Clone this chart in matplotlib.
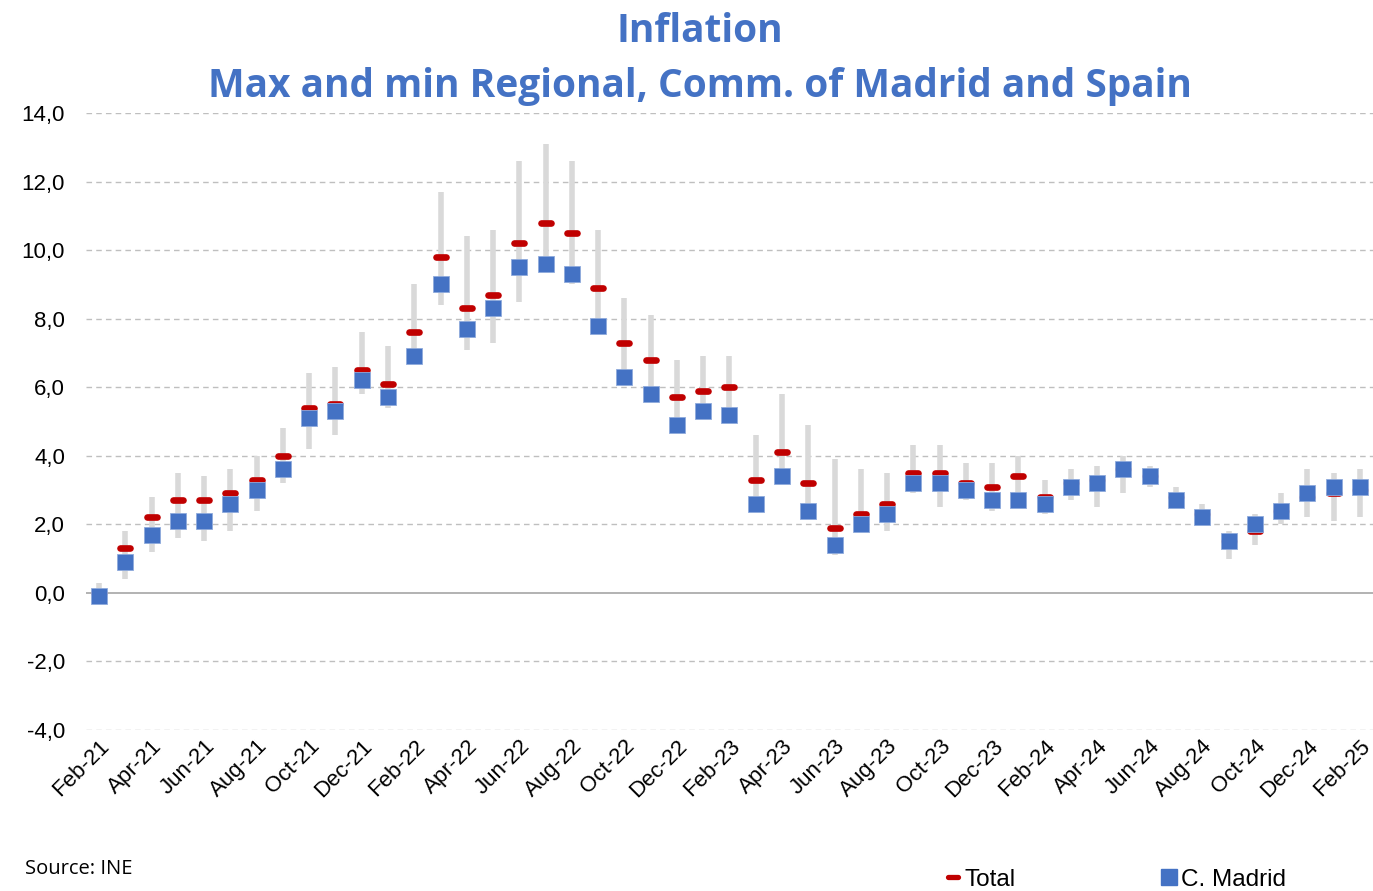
import numpy as np
import matplotlib.pyplot as plt
from matplotlib.markers import MarkerStyle
from matplotlib.lines import Line2D

# months Feb-21 .. Feb-25
months = ["Feb-21", "Mar-21", "Apr-21", "May-21", "Jun-21", "Jul-21", "Aug-21", "Sep-21",
          "Oct-21", "Nov-21", "Dec-21", "Jan-22", "Feb-22", "Mar-22", "Apr-22", "May-22",
          "Jun-22", "Jul-22", "Aug-22", "Sep-22", "Oct-22", "Nov-22", "Dec-22", "Jan-23",
          "Feb-23", "Mar-23", "Apr-23", "May-23", "Jun-23", "Jul-23", "Aug-23", "Sep-23",
          "Oct-23", "Nov-23", "Dec-23", "Jan-24", "Feb-24", "Mar-24", "Apr-24", "May-24",
          "Jun-24", "Jul-24", "Aug-24", "Sep-24", "Oct-24", "Nov-24", "Dec-24", "Jan-25",
          "Feb-25"]

total = [0.0, 1.3, 2.2, 2.7, 2.7, 2.9, 3.3, 4.0, 5.4, 5.5, 6.5, 6.1, 7.6, 9.8, 8.3, 8.7,
         10.2, 10.8, 10.5, 8.9, 7.3, 6.8, 5.7, 5.9, 6.0, 3.3, 4.1, 3.2, 1.9, 2.3, 2.6, 3.5,
         3.5, 3.2, 3.1, 3.4, 2.8, 3.2, 3.3, 3.6, 3.4, 2.8, 2.3, 1.5, 1.8, 2.4, 2.8, 2.9, 3.0]

madrid = [-0.1, 0.9, 1.7, 2.1, 2.1, 2.6, 3.0, 3.6, 5.1, 5.3, 6.2, 5.7, 6.9, 9.0, 7.7, 8.3,
          9.5, 9.6, 9.3, 7.8, 6.3, 5.8, 4.9, 5.3, 5.2, 2.6, 3.4, 2.4, 1.4, 2.0, 2.3, 3.2,
          3.2, 3.0, 2.7, 2.7, 2.6, 3.1, 3.2, 3.6, 3.4, 2.7, 2.2, 1.5, 2.0, 2.4, 2.9, 3.1, 3.1]

reg_max = [0.3, 1.8, 2.8, 3.5, 3.4, 3.6, 4.0, 4.8, 6.4, 6.6, 7.6, 7.2, 9.0, 11.7, 10.4, 10.6,
           12.6, 13.1, 12.6, 10.6, 8.6, 8.1, 6.8, 6.9, 6.9, 4.6, 5.8, 4.9, 3.9, 3.6, 3.5, 4.3,
           4.3, 3.8, 3.8, 4.0, 3.3, 3.6, 3.7, 4.0, 3.7, 3.1, 2.6, 1.8, 2.3, 2.9, 3.6, 3.5, 3.6]

reg_min = [-0.3, 0.4, 1.2, 1.6, 1.5, 1.8, 2.4, 3.2, 4.2, 4.6, 5.8, 5.4, 6.7, 8.4, 7.1, 7.3,
           8.5, 9.4, 9.0, 7.6, 6.1, 5.6, 4.7, 5.1, 5.0, 2.4, 3.2, 2.2, 1.1, 1.8, 1.8, 2.9,
           2.5, 2.7, 2.4, 2.5, 2.3, 2.7, 2.5, 2.9, 3.1, 2.5, 2.0, 1.0, 1.4, 2.0, 2.2, 2.1, 2.2]

blue = "#4472C4"
red = "#C00000"
grey = "#D9D9D9"

fig = plt.figure(figsize=(13.73, 8.91), dpi=100)
ax = fig.add_axes([0.0626, 0.1807, 0.9374, 0.6925])

x = np.arange(len(months))
ax.vlines(x, reg_min, reg_max, color=grey, linewidth=4, zorder=2)

dash = MarkerStyle("_", capstyle="round")
ax.plot(x, total, linestyle="none", marker=dash, markersize=6.5, markeredgewidth=4.8,
        color=red, zorder=3)
ax.plot(x, madrid, linestyle="none", marker="s", markersize=12.2, markerfacecolor=blue,
        markeredgecolor="#8FAADC", markeredgewidth=0.6, zorder=4)

ax.set_xlim(-0.5, len(months) - 0.5)
ax.set_ylim(-4, 14)
yt = np.arange(-4, 15, 2)
ax.set_yticks(yt)
ax.set_yticklabels([f"{v:.1f}".replace(".", ",") for v in yt],
                   fontfamily="Liberation Sans", fontsize=16)
ax.set_xticks(x[::2])
ax.set_xticklabels(months[::2], rotation=45, ha="right", rotation_mode="anchor",
                   fontfamily="Liberation Sans", fontsize=16)
ax.tick_params(length=0)
ax.tick_params(axis="y", pad=15)
ax.tick_params(axis="x", pad=4)

for v in yt:
    if v == 0:
        ax.axhline(0, color="#A6A6A6", linewidth=1.2, zorder=1)
    else:
        ax.axhline(v, color="#BFBFBF", linewidth=1, linestyle=(0, (4, 3)), zorder=1)

for s in ax.spines.values():
    s.set_visible(False)

fig.text(0.51, 0.965, "Inflation", ha="center", va="center", color=blue,
         fontsize=28, fontweight="bold", fontfamily="Open Sans")
fig.text(0.51, 0.903, "Max and min Regional, Comm. of Madrid and Spain", ha="center",
         va="center", color=blue, fontsize=28, fontweight="bold", fontfamily="Open Sans")

fig.text(0.018, 0.025, "Source: INE", ha="left", va="center", fontsize=14.5,
         fontfamily="Open Sans")

leg_total = Line2D([], [], linestyle="none", marker=dash, markersize=6.5,
                   markeredgewidth=3.8, color=red)
leg_madrid = Line2D([], [], linestyle="none", marker="s", markersize=11, color=blue)
for h, lab, x0 in [(leg_total, "Total", 944), (leg_madrid, "C. Madrid", 1160)]:
    fig.legend([h], [lab], frameon=False, loc="center left",
               bbox_to_anchor=(x0 / 1373, 1 - 880 / 891), borderpad=0, borderaxespad=0,
               handlelength=0.75, handletextpad=0.1,
               prop={"family": "Liberation Sans", "size": 17.5})

fig.savefig("out.png", dpi=100)
